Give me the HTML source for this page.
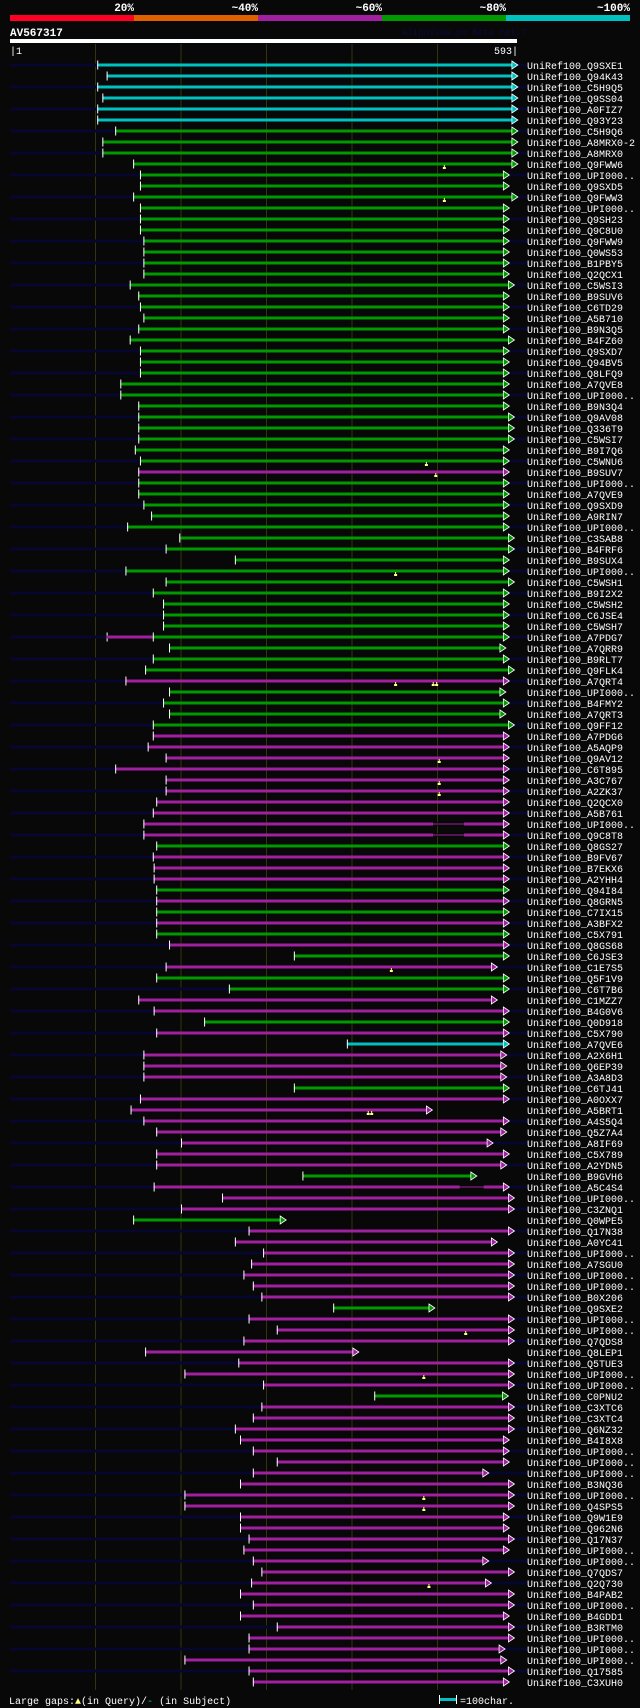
<!DOCTYPE html>
<html><head><meta charset="utf-8">
<style>
html,body{margin:0;padding:0;background:#080808;}
body{width:640px;height:1708px;overflow:hidden;position:relative;font-family:"Liberation Mono","DejaVu Sans Mono",monospace;}
svg{position:absolute;left:0;top:0;}
</style></head>
<body>
<svg id="chart" width="640" height="1708" xmlns="http://www.w3.org/2000/svg">
  <g>
    <rect x="10" y="15" width="124" height="6" fill="#ff0022"/>
    <rect x="134" y="15" width="124" height="6" fill="#e06000"/>
    <rect x="258" y="15" width="124" height="6" fill="#a020a0"/>
    <rect x="382" y="15" width="124" height="6" fill="#009900"/>
    <rect x="506" y="15" width="124" height="6" fill="#00c0c0"/>
    <g font-size="11" font-weight="bold" fill="#fff" text-anchor="end" font-family="Liberation Mono, monospace">
      <text x="134" y="11">20%</text>
      <text x="258" y="11">~40%</text>
      <text x="382" y="11">~60%</text>
      <text x="506" y="11">~80%</text>
      <text x="630" y="11">~100%</text>
    </g>
  </g>
  <text x="10" y="36" font-size="11" font-weight="bold" fill="#fff" font-family="Liberation Mono, monospace">AV567317</text>
  <text x="402" y="35" font-size="9" fill="#0a0a44" font-family="Liberation Mono, monospace">AlignView.pm Beta rel.7</text>
  <rect x="10" y="39" width="507" height="4" fill="#fff"/>
  <text x="10" y="54" font-size="10" fill="#fff" font-family="Liberation Mono, monospace">|1</text>
  <text x="518" y="54" font-size="10" fill="#fff" text-anchor="end" font-family="Liberation Mono, monospace">593|</text>
  <g id="grid"></g>
  <g id="rows"></g>
  <g font-family="Liberation Mono, monospace" font-size="10" fill="#fff">
    <text x="9" y="1704">Large gaps:<tspan fill="#ffff80">▲</tspan>(in Query)/<tspan fill="#00c0c0">-</tspan> (in Subject)</text>
    <rect x="439" y="1698" width="17" height="3" fill="#00c0c0"/>
    <rect x="439" y="1695" width="1" height="9" fill="#fff"/>
    <rect x="456" y="1695" width="1" height="9" fill="#fff"/>
    <text x="460" y="1704">=100char.</text>
  </g>
</svg>
<script>
const names = ["Q9SXE1","Q94K43","C5H9Q5","Q9SS04","A0FIZ7","Q93Y23","C5H9Q6","A8MRX0-2","A8MRX0","Q9FWW6",
"UPI000..","Q9SXD5","Q9FWW3","UPI000..","Q9SH23","Q9C8U0","Q9FWW9","Q0WS53","B1PBY5","Q2QCX1",
"C5WSI3","B9SUV6","C6TD29","A5B710","B9N3Q5","B4FZ60","Q9SXD7","Q94BV5","Q8LFQ9","A7QVE8",
"UPI000..","B9N3Q4","Q9AV08","Q336T9","C5WSI7","B9I7Q6","C5WNU6","B9SUV7","UPI000..","A7QVE9",
"Q9SXD9","A9RIN7","UPI000..","C3SAB8","B4FRF6","B9SUX4","UPI000..","C5WSH1","B9I2X2","C5WSH2",
"C6JSE4","C5WSH7","A7PDG7","A7QRR9","B9RLT7","Q9FLK4","A7QRT4","UPI000..","B4FMY2","A7QRT3",
"Q9FF12","A7PDG6","A5AQP9","Q9AV12","C6T895","A3C767","A2ZK37","Q2QCX0","A5B761","UPI000..",
"Q9C8T8","Q8GS27","B9FV67","B7EKX6","A2YHH4","Q94I84","Q8GRN5","C7IX15","A3BFX2","C5X791",
"Q8GS68","C6JSE3","C1E7S5","Q5F1V9","C6T7B6","C1MZZ7","B4G0V6","Q0D918","C5X790","A7QVE6",
"A2X6H1","Q6EP39","A3A8D3","C6TJ41","A0OXX7","A5BRT1","A4S5Q4","Q5Z7A4","A8IF69","C5X789",
"A2YDN5","B9GVH6","A5C4S4","UPI000..","C3ZNQ1","Q0WPE5","Q17N38","A0YC41","UPI000..","A7SGU0",
"UPI000..","UPI000..","B0X206","Q9SXE2","UPI000..","UPI000..","Q7QDS8","Q8LEP1","Q5TUE3","UPI000..",
"UPI000..","C0PNU2","C3XTC6","C3XTC4","Q6NZ32","B4I8X8","UPI000..","UPI000..","UPI000..","B3NQ36",
"UPI000..","Q4SPS5","Q9W1E9","Q962N6","Q17N37","UPI000..","UPI000..","Q7QDS7","Q2Q730","B4PAB2",
"UPI000..","B4GDD1","B3RTM0","UPI000..","UPI000..","UPI000..","Q17585","C3XUH0"];
const hitStart = [102,113,102,108,102,102,123,108,108,144,152,152,144,152,152,152,156,156,
156,156,140,150,152,156,150,140,152,152,152,129,129,150,150,150,150,146,152,
150,150,150,156,165,137,198,182,263,135,182,167,179,179,179,113,186,167,
158,135,186,179,186,167,167,161,182,123,182,182,171,167,156,156,171,167,
168,168,171,171,171,171,171,186,332,182,171,256,150,168,227,171,394,156,156,
156,332,152,141,156,171,200,171,171,342,168,248,200,144,279,263,296,282,
273,284,294,378,279,312,273,158,267,204,296,426,294,284,263,269,284,312,284,
269,204,204,269,269,279,273,284,294,282,269,284,269,312,279,279,204,279,284];
const hitEnd = [587,587,587,587,587,587,587,587,587,587,577,577,587,577,577,577,577,577,577,577,
583,577,577,577,577,583,577,577,577,577,577,577,583,583,583,577,577,577,577,577,
577,577,577,583,583,577,577,583,577,577,577,577,577,573,577,583,577,573,577,573,
583,577,577,577,577,577,577,577,577,577,577,577,577,577,577,577,577,577,577,577,
577,577,563,577,577,563,577,577,577,577,574,574,574,577,577,487,577,574,558,577,
574,539,577,583,583,316,583,563,583,583,583,583,583,490,583,583,583,401,583,583,
583,576,583,583,583,577,577,577,553,583,583,583,577,577,583,577,553,583,556,583,
583,577,583,583,572,574,583,577];
const hitColor = [
  "ccccccgggg","gggggggggg","gggggggggg","gggggggmgg","gggggggggg",
  "ggggggmggg","gmmmmmmmmm","mgmmmgmgmg","mgmggmmgmc","mmmgmmmmmm",
  "mgmmmgmmmm","mmmgmmmmmm","mgmmmmmmmm","mmmmmmmmmm","mmmmmmmm"].join("");
const markRow = [9,12,36,37,46,56,56,56,63,65,66,82,95,95,115,119,130,131,138];
const markPos = [508,508,487,498,451,451,495,499,502,502,502,446,419,423,533,484,484,484,490];
const gapRow = [69,70,102];
const gapFrom = [495,495,526];
const gapTo = [531,531,554];
const prefixRow = [52];
const prefixFrom = [113];
const prefixTo = [167];
const gridTicks = [100,200,300,400,500];

const NS = "http://www.w3.org/2000/svg";
const X0 = 10, PX = 0.855, Y0 = 65, PITCH = 11;
const COLORS = {c:"#00c0c0", g:"#009a00", m:"#a020a0"};
function xs(c){ return X0 + c * PX; }
function ys(i){ return Y0 + i * PITCH; }
function mk(tag, attrs, parent){
  const el = document.createElementNS(NS, tag);
  for (const k in attrs) el.setAttribute(k, attrs[k]);
  parent.appendChild(el);
  return el;
}
const grid = document.getElementById("grid");
gridTicks.forEach(function(t){
  const l = mk("line", {x1: xs(t), x2: xs(t), y1: 44, y2: 1690, stroke: "#33330f", "stroke-width": 1}, grid);
  
  
});
const rows = document.getElementById("rows");
names.forEach(function(n, i){
  const y = ys(i);
  const g = mk("g", {}, rows);
  
  
  if (i % 2 === 0) {
    const q = mk("rect", {x: X0, y: y - 1.5, width: 517, height: 3, fill: "#06062e"}, g);
    
    
  }
  const col = COLORS[hitColor[i]] || COLORS.m;
  const s = xs(hitStart[i]), e = xs(hitEnd[i]);
  const bar = mk("rect", {x: s, y: y - 1.5, width: e - s, height: 3, fill: col}, g);
  
  
  const arr = mk("polygon", {points: (e) + "," + (y - 4) + " " + (e + 6) + "," + y + " " + (e) + "," + (y + 4), fill: col, stroke: "#fff", "stroke-width": 0.8}, g);
  
  
  const tk = mk("rect", {x: s, y: y - 4.5, width: 1, height: 9, fill: "#fff"}, g);
  
  
  const lb = mk("text", {x: 527, y: y + 4, fill: "#fff", "font-size": 10, "font-family": "Liberation Mono, monospace"}, g);
  lb.textContent = "UniRef100_" + n;
  
  
});
prefixRow.forEach(function(r, k){
  const y = ys(r);
  const p = mk("rect", {x: xs(prefixFrom[k]), y: y - 1.5, width: xs(prefixTo[k]) - xs(prefixFrom[k]), height: 3, fill: COLORS.m}, rows);
  
  
  const t = mk("rect", {x: xs(prefixTo[k]), y: y - 4.5, width: 1, height: 9, fill: "#fff"}, rows);
  
  
});
gapRow.forEach(function(r, k){
  const y = ys(r);
  const col = COLORS[hitColor[r]] || COLORS.m;
  const a = xs(gapFrom[k]), b = xs(gapTo[k]);
  const bg = mk("rect", {x: a, y: y - 1.5, width: b - a, height: 3, fill: "#080808"}, rows);
  
  
  const ln = mk("rect", {x: a, y: y - 0.5, width: b - a, height: 1, fill: col}, rows);
  
  
});
markRow.forEach(function(r, k){
  const y = ys(r), x = xs(markPos[k]);
  const m = mk("path", {d: "M" + (x - 1.5) + "," + (y + 5) + "h3v-2h-1v-2h-1v2h-1z", fill: "#ffff80"}, rows);
  
  
});
</script>
</body></html>
